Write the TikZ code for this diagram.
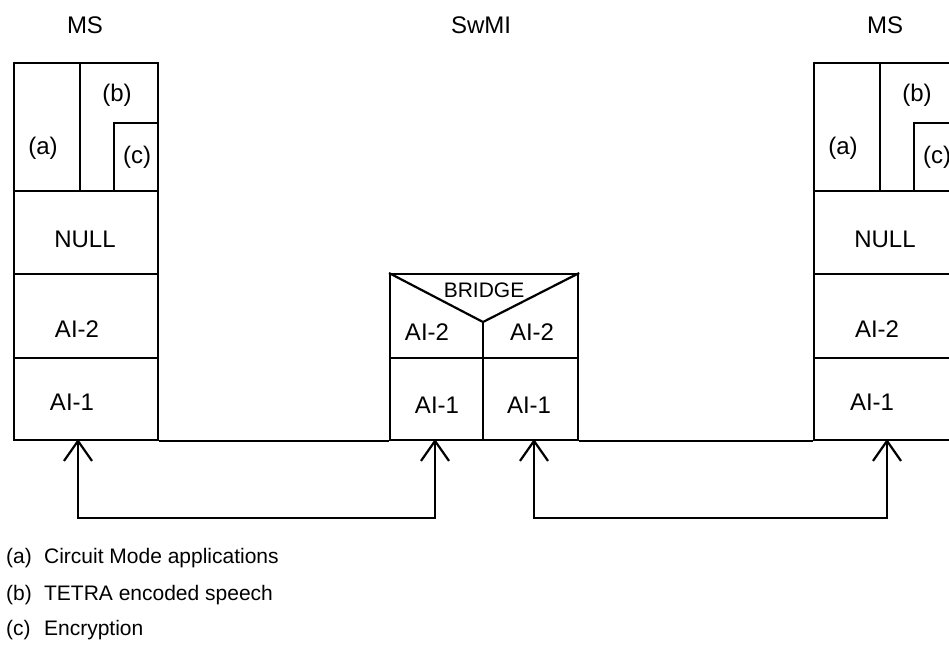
\documentclass[tikz,border=0pt]{standalone}
\usepackage{fontspec}
\setmainfont{Liberation Sans}
\usetikzlibrary{arrows.meta}
\begin{document}
\begin{tikzpicture}[x=1pt,y=-1pt,line width=2.2pt,
  lbl/.style={inner sep=0pt,font=\fontsize{24}{28}\selectfont},
  sm/.style={inner sep=0pt,font=\fontsize{21}{25}\selectfont},
  legend/.style={inner sep=0pt,anchor=west,font=\fontsize{21}{25}\selectfont},
  box/.style={draw,inner sep=0pt,anchor=north west},
  barb/.tip={Straight Barb[length=20pt,width=28pt,line width=2.2pt]},
  link/.style={barb-barb}]
\useasboundingbox (0,0) rectangle (949,646);
\clip (0,0) rectangle (949,646);
% top labels
\node[lbl] (ms1) at (85,25) {MS};
\node[lbl] (swmi) at (481,25) {SwMI};
\node[lbl] (ms2) at (885,25) {MS};
% stacks
\foreach \s/\dx in {l/0,r/800}{
  \begin{scope}[xshift=\dx]
    \node[box,minimum width=66pt,minimum height=128pt] (\s a) at (13,62) {};
    \node[box,minimum width=78pt,minimum height=128pt] (\s b) at (79,62) {};
    \node[box,minimum width=44pt,minimum height=68pt] (\s c) at (113,122) {};
    \node[box,minimum width=144pt,minimum height=83pt] (\s null) at (13,190) {};
    \node[box,minimum width=144pt,minimum height=84pt] (\s aitwo) at (13,273) {};
    \node[box,minimum width=144pt,minimum height=82pt] (\s aione) at (13,357) {};
    \node[lbl] (\s ta) at (43,148) {(a)};
    \node[lbl] (\s tb) at (117,95) {(b)};
    \node[lbl] (\s tc) at (137,157) {(c)};
    \node[lbl] (\s tnull) at (85,239) {NULL};
    \node[lbl] (\s taitwo) at (77,329) {AI-2};
    \node[lbl] (\s taione) at (72,402) {AI-1};
  \end{scope}}
% bridge
\node[box,minimum width=188pt,minimum height=166pt] (bridge) at (389,273) {};
\coordinate (apex) at (483,322);
\coordinate (mid) at (483,358);
\coordinate (bot) at (483,439);
\draw (bridge.north west) -- (apex) -- (bridge.north east);
\draw (apex) -- (bot);
\draw (bridge.west |- mid) -- (bridge.east |- mid);
\node[sm] (tbridge) at (484,290) {BRIDGE};
\node[lbl] (bl2) at (427,332) {AI-2};
\node[lbl] (br2) at (532,332) {AI-2};
\node[lbl] (bl1) at (437,405) {AI-1};
\node[lbl] (br1) at (529,405) {AI-1};
% bus lines
\draw (laione.south east) -- (bridge.south west);
\draw (bridge.south east) -- (raione.south west);
% arrows
\coordinate (t1) at (78,439);  \coordinate (b1) at (78,518);
\coordinate (t2) at (435,439); \coordinate (b2) at (435,518);
\coordinate (t3) at (534,439); \coordinate (b3) at (534,518);
\coordinate (t4) at (887,439); \coordinate (b4) at (887,518);
\draw[link] (t1) -- (b1) -- (b2) -- (t2);
\draw[link] (t3) -- (b3) -- (b4) -- (t4);
% legend
\node[legend] (la) at (5,558) {(a)};
\node[legend] (lat) at (43,558) {Circuit Mode applications};
\node[legend] (lb) at (5,595) {(b)};
\node[legend] (lbt) at (43,595) {TETRA encoded speech};
\node[legend] (lc) at (5,630) {(c)};
\node[legend] (lct) at (43,630) {Encryption};
\end{tikzpicture}
\end{document}
